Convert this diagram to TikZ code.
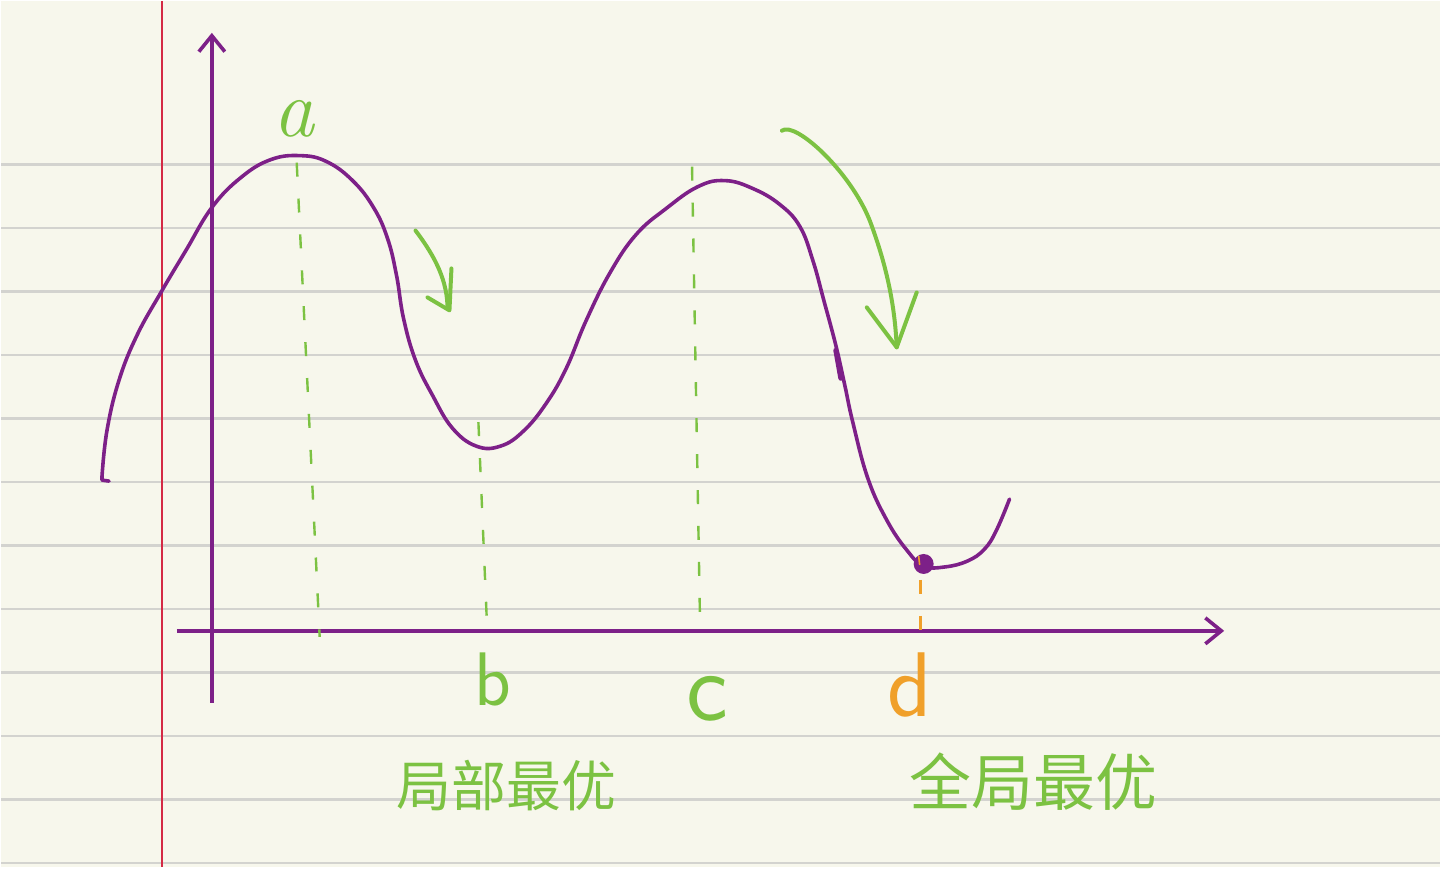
\documentclass[tikz,border=0pt]{standalone}
\usepackage{fontspec}
\newfontfamily\cjk{Noto Sans CJK SC}
\usetikzlibrary{arrows.meta}
\definecolor{paper}{HTML}{F7F7EC}
\definecolor{rule}{HTML}{D3D3CF}
\definecolor{margin}{HTML}{D42A45}
\definecolor{pen}{HTML}{7D2088}
\definecolor{leaf}{HTML}{7CC242}
\definecolor{amber}{HTML}{F0A02A}
\begin{document}
\begin{tikzpicture}[x=1pt,y=-1pt,
  curve/.style={draw=pen,line width=3.6pt,line cap=round,line join=round},
  axis/.style={draw=pen,line width=3.6pt,-{Straight Barb[length=16pt,width=26pt,line width=3.6pt]}},
  guide/.style={draw=leaf,line width=2.4pt,dash pattern=on 14pt off 22pt},
  hint/.style={draw=leaf,line width=4pt,line cap=round,line join=round},
  tag/.style={text=leaf,inner sep=0pt}]
\fill[paper] (0,0) rectangle (1441,868);
\foreach \k in {0,...,11}
  \draw[rule,line width=2.4pt] (0,164+63.6*\k) -- (1441,164+63.6*\k);
\draw[margin,line width=1.8pt] (161,0) -- (161,868);
\draw[axis] (211,703) -- (211,32);
\draw[axis] (176,631) -- (1225,631);
\coordinate (topA) at (296,162);
\coordinate (footA) at (319,637);
\coordinate (lowB) at (478,422);
\coordinate (footB) at (487,634);
\coordinate (topC) at (692,166);
\coordinate (footC) at (700,622);
\coordinate (lowD) at (921,580);
\coordinate (footD) at (921,636);
\draw[guide] (topA) -- (footA);
\draw[guide] (lowB) -- (footB);
\draw[guide] (topC) -- (footC);
\draw[guide,draw=amber] (lowD) -- (footD);
\draw[curve] plot[smooth,tension=0.7] coordinates {(101,476) (106,430) (118,380) (136,335)
  (160,292) (185,250) (211,207) (240,177) (270,159) (300,155) (326,161) (352,180) (373,207)
  (387,238) (396,275) (403,318) (415,360) (432,395) (452,428) (476,446) (500,446) (523,431)
  (546,403) (566,368) (586,320) (610,272) (636,234) (666,208) (698,186) (725,180) (753,188)
  (780,204) (800,226) (813,260) (824,300) (836,345) (845,385) (853,422) (868,478) (887,520)
  (907,550) (924,566) (945,567) (968,561) (985,549) (997,530) (1010,499)};
\draw[curve] (101,476) -- (101,480) -- (108,481);
\draw[curve,line width=5pt] (836,350) -- (841,378);
\fill[pen] (924,564) circle (10);
\draw[amber,line width=1.6pt] (919,556) -- (920,565);
\draw[hint] (415,230) .. controls (430,250) and (446,275) .. (447,305);
\draw[hint] (427,297) -- (449,310) -- (451,268);
\draw[hint] (782,130) .. controls (795,120) and (850,170) .. (870,220)
  .. controls (885,260) and (895,300) .. (897,347);
\draw[hint] (867,307) -- (897,347) -- (917,292);
\node[tag,font=\fontsize{82}{82}\selectfont\itshape] (labA) at (293,118) {a};
\node[tag,font=\sffamily\fontsize{76}{76}\selectfont] (labB) at (492,680) {b};
\node[tag,font=\sffamily\fontsize{100}{100}\selectfont] (labC) at (707,699) {c};
\node[tag,text=amber,font=\sffamily\fontsize{92}{92}\selectfont] (labD) at (910,685) {d};
\node[tag,font=\cjk\fontsize{55}{55}\selectfont] (local) at (506,786) {局部最优};
\node[tag,font=\cjk\fontsize{62}{62}\selectfont] (global) at (1034,782) {全局最优};
\end{tikzpicture}
\end{document}
